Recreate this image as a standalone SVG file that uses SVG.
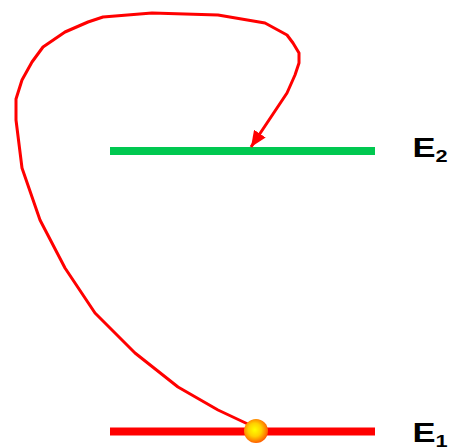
<svg xmlns="http://www.w3.org/2000/svg" width="454" height="448" viewBox="0 0 454 448">
<style>
.lbl{font-family:"Liberation Sans",Arial,sans-serif;font-weight:bold;fill:#000}
.main{font-size:27px}
.sub{font-size:17px}
.path{fill:none;stroke:#ff0000;stroke-width:3;stroke-linejoin:round}
</style>
<defs>
<marker id="ah" markerUnits="userSpaceOnUse" markerWidth="18" markerHeight="14" refX="16" refY="7" orient="auto">
<path d="M0,0 L16,7 L0,14 Z" fill="#ff0000"/>
</marker>
<radialGradient id="ball" cx="0.45" cy="0.45" r="0.55">
<stop offset="0" stop-color="#ffff00"/>
<stop offset="0.5" stop-color="#ffd000"/>
<stop offset="1" stop-color="#ff6000"/>
</radialGradient>
</defs>
<g id="level-E2">
<line x1="110" y1="151" x2="375" y2="151" stroke="#00c850" stroke-width="8"/>
<text class="lbl main" transform="translate(412.5,157) scale(1.28,1)">E<tspan class="sub" dy="5">2</tspan></text>
</g>
<g id="level-E1">
<line x1="110" y1="431.5" x2="375" y2="431.5" stroke="#ff0000" stroke-width="8"/>
<text class="lbl main" transform="translate(412.5,442) scale(1.28,1)">E<tspan class="sub" dy="5">1</tspan></text>
</g>
<g id="connectors">
<polyline class="path" marker-end="url(#ah)" points="252,426 218,410 178,387 135,353 95,313 65,268 40,220 22,168 16,120 16,99 22,80 32,62 43,47 65,32 88,22 103,17 152,13 218,15 265,23 287,35 293,43 299,53 299,63 295,75 287,93 251,147"/>
</g>
<g id="particle">
<circle cx="256" cy="431" r="12" fill="url(#ball)"/>
</g>
</svg>
